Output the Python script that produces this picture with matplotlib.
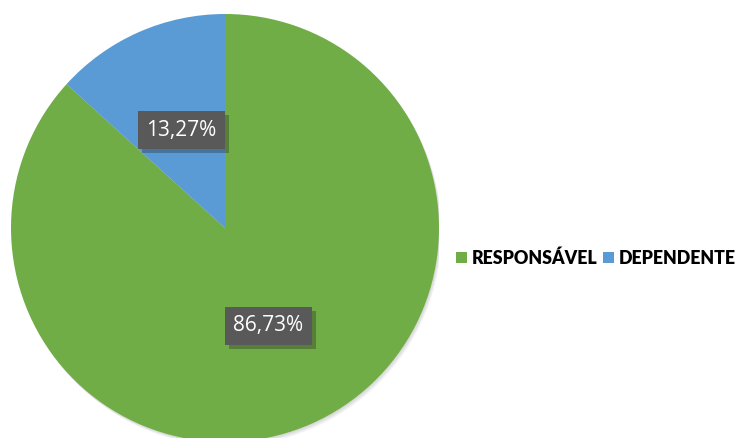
import matplotlib
matplotlib.use("Agg")
import matplotlib.pyplot as plt
from matplotlib.patches import Patch, Circle
import matplotlib.patheffects as pe
import numpy as np

categories = ["RESPONSÁVEL", "DEPENDENTE"]
values = [86.73, 13.27]
labels = ["86,73%", "13,27%"]
colors = ["#70AD47", "#5B9BD5"]

W, H = 749, 438
fig = plt.figure(figsize=(W / 100, H / 100), dpi=100)
cx, cy, r = 225, 228, 214
ax = fig.add_axes([(cx - r) / W, (H - cy - r) / H, 2 * r / W, 2 * r / H])

# subtle shadow
for i, a in enumerate([0.05, 0.05, 0.05]):
    ax.add_patch(Circle((0.004 * (i + 1), -0.006 * (i + 1)), 1.0, color="black", alpha=a, lw=0, zorder=0))

wedges, _ = ax.pie(values, colors=colors, startangle=90, counterclock=False,
                   radius=1.0, center=(0, 0), frame=True,
                   wedgeprops=dict(linewidth=0, zorder=1))
ax.set_xlim(-1, 1)
ax.set_ylim(-1, 1)
ax.set_aspect("equal")
ax.axis("off")

start = 90
for v, lab in zip(values, labels):
    ang = start - v / 100 * 360 / 2
    start -= v / 100 * 360
    x = 0.5 * np.cos(np.radians(ang))
    y = 0.5 * np.sin(np.radians(ang))
    t = ax.text(x, y, lab, ha="center", va="center", color="white",
                fontsize=15, family=["Open Sans", "DejaVu Sans"], zorder=5,
                bbox=dict(boxstyle="square,pad=0.4", fc="#595959", ec="none"))
    t.get_bbox_patch().set_path_effects([pe.SimplePatchShadow(offset=(3, -3), alpha=0.3), pe.Normal()])

handles = [Patch(facecolor=c, edgecolor="none") for c in colors]
fig.legend(handles, categories, loc="center left", bbox_to_anchor=(456 / W, (H - 258) / H),
           ncol=2, frameon=False, borderpad=0, borderaxespad=0,
           handlelength=0.6, handleheight=0.6,
           handletextpad=0.3, columnspacing=0.3,
           prop=dict(family=["Lato", "DejaVu Sans"], weight="heavy", size=12.8))

fig.savefig("out.png", dpi=100)
